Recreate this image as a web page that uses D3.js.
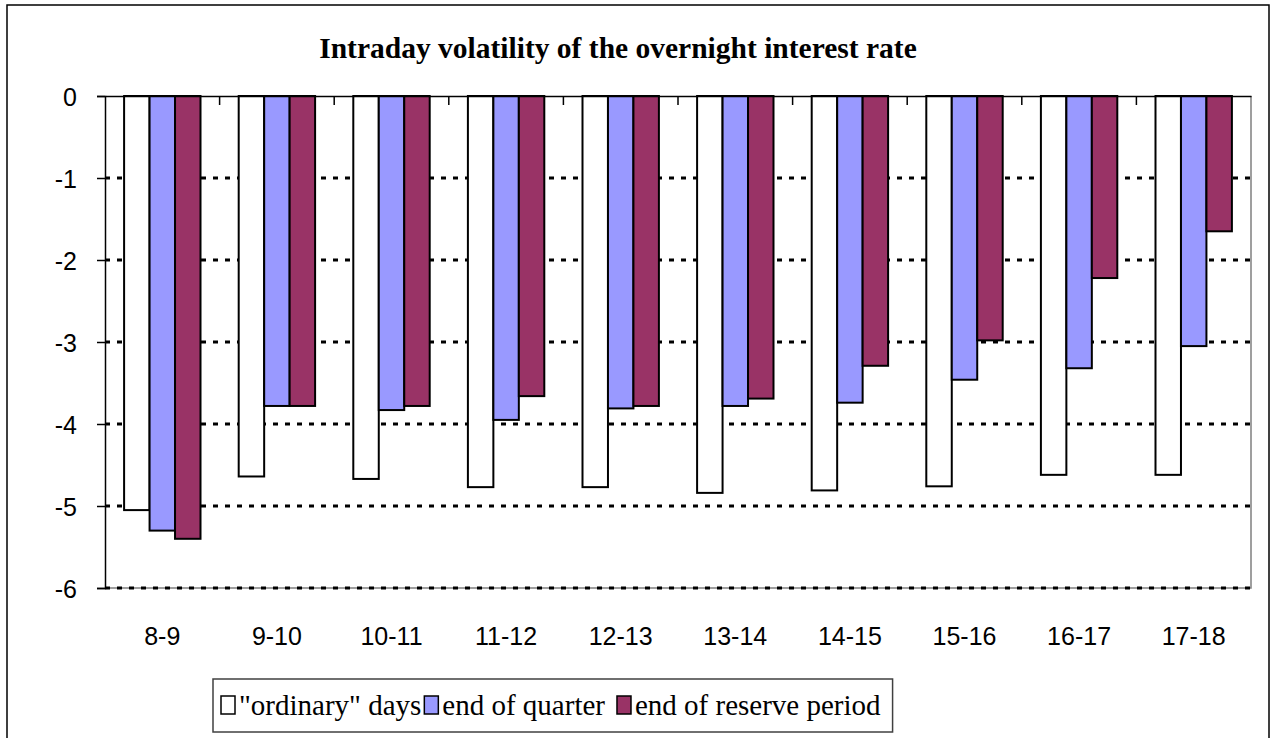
<!DOCTYPE html>
<html>
<head>
<meta charset="utf-8">
<script src="https://cdn.jsdelivr.net/npm/d3@7"></script>
<style>
  body { margin: 0; background: #fff; }
  svg { display: block; }
</style>
</head>
<body>
<div id="chart"></div>
<script>
// data
const categories = ["8-9", "9-10", "10-11", "11-12", "12-13", "13-14", "14-15", "15-16", "16-17", "17-18"];
const seriesNames = ["\"ordinary\" days", "end of quarter", "end of reserve period"];
const ordinaryDays = [-5.05, -4.64, -4.67, -4.77, -4.77, -4.84, -4.81, -4.76, -4.62, -4.62];
const endOfQuarter = [-5.30, -3.78, -3.83, -3.95, -3.81, -3.78, -3.74, -3.46, -3.32, -3.05];
const endOfReserve = [-5.40, -3.78, -3.78, -3.66, -3.78, -3.69, -3.29, -2.98, -2.22, -1.65];
const yTicks = [0, -1, -2, -3, -4, -5, -6];
const colors = ["#FFFFFF", "#9999FF", "#993366"];

const width = 1271, height = 738;
const plot = {left: 105, right: 1251, top: 96, bottom: 588};

const svg = d3.select("#chart").append("svg")
    .attr("width", width)
    .attr("height", height);

// outer chart frame
svg.append("rect")
    .attr("x", 7).attr("y", 5)
    .attr("width", 1262).attr("height", 745)
    .attr("fill", "#fff")
    .attr("stroke", "#000")
    .attr("stroke-width", 1.5);

const x0 = d3.scaleBand()
    .domain(categories)
    .range([plot.left, plot.right])
    .padding(0);

// Excel style gap width 150%: band = 3 bars + 1.5 bar
const barW = x0.bandwidth() / 4.5;
const x1 = d3.scaleBand()
    .domain(seriesNames)
    .range([barW * 0.75, barW * 3.75])
    .padding(0);

const y = d3.scaleLinear()
    .domain([-6, 0])
    .range([plot.bottom, plot.top]);

// plot area border (right and bottom, grey)
svg.append("path")
    .attr("d", `M${plot.right},${plot.top}V${plot.bottom}H${plot.left}`)
    .attr("fill", "none")
    .attr("stroke", "#808080")
    .attr("stroke-width", 1.5);

// dotted gridlines
svg.append("g")
    .selectAll("line")
    .data(yTicks.filter(d => d !== 0))
    .join("line")
    .attr("x1", plot.left).attr("x2", plot.right)
    .attr("y1", d => y(d)).attr("y2", d => y(d))
    .attr("stroke", "#000")
    .attr("stroke-width", 3)
    .attr("stroke-dasharray", "5 7");

// bars
const rows = categories.map((c, i) => ({
    cat: c,
    values: [ordinaryDays[i], endOfQuarter[i], endOfReserve[i]]
}));

svg.append("g")
    .selectAll("g")
    .data(rows)
    .join("g")
    .attr("transform", d => `translate(${x0(d.cat)},0)`)
    .selectAll("rect")
    .data(d => d.values.map((v, k) => ({name: seriesNames[k], value: v, k: k})))
    .join("rect")
    .attr("x", d => x1(d.name))
    .attr("y", y(0))
    .attr("width", x1.bandwidth())
    .attr("height", d => y(d.value) - y(0))
    .attr("fill", d => colors[d.k])
    .attr("stroke", "#000")
    .attr("stroke-width", 2);

// y axis (plain hyphen for the minus sign, like the original)
const yAxis = d3.axisLeft(y)
    .tickValues(yTicks)
    .tickSize(8)
    .tickPadding(20)
    .tickFormat(d => String(d));

const gy = svg.append("g")
    .attr("transform", `translate(${plot.left},0)`)
    .call(yAxis);
gy.select(".domain").attr("stroke", "#000").attr("stroke-width", 1.5);
gy.selectAll(".tick line").attr("stroke", "#000").attr("stroke-width", 1.5);
gy.selectAll(".tick text")
    .attr("font-family", "Arial, 'Liberation Sans', sans-serif")
    .attr("font-size", 25)
    .attr("fill", "#000")
    .attr("dy", "0.36em");

// category axis along zero line, ticks pointing down into the plot
const xAxis = d3.axisBottom(x0).tickSize(0).tickFormat("");
const gx = svg.append("g")
    .attr("transform", `translate(0,${y(0)})`)
    .call(xAxis);
gx.select(".domain").attr("stroke", "#000").attr("stroke-width", 1.5);

svg.append("g")
    .selectAll("line")
    .data(categories.slice(1))
    .join("line")
    .attr("x1", d => x0(d)).attr("x2", d => x0(d))
    .attr("y1", y(0)).attr("y2", y(0) + 9)
    .attr("stroke", "#000")
    .attr("stroke-width", 1.5);

// category labels placed low, under the plot
svg.append("g")
    .selectAll("text")
    .data(categories)
    .join("text")
    .attr("x", d => x0(d) + x0.bandwidth() / 2)
    .attr("y", 645)
    .attr("text-anchor", "middle")
    .attr("font-family", "Arial, 'Liberation Sans', sans-serif")
    .attr("font-size", 25)
    .text(d => d);

// title
svg.append("text")
    .attr("x", 618)
    .attr("y", 58)
    .attr("text-anchor", "middle")
    .attr("font-family", "'Times New Roman', 'Liberation Serif', serif")
    .attr("font-weight", "bold")
    .attr("font-size", 29.5)
    .text("Intraday volatility of the overnight interest rate");

// legend
const legend = svg.append("g");
const legendBox = legend.append("rect")
    .attr("y", 679)
    .attr("height", 53)
    .attr("fill", "#fff")
    .attr("stroke", "#404040")
    .attr("stroke-width", 1.5);

let lx = 221;
const gaps = [3, 12, 0];
seriesNames.forEach((name, k) => {
    legend.append("rect")
        .attr("x", lx).attr("y", 696)
        .attr("width", 14).attr("height", 18)
        .attr("fill", colors[k])
        .attr("stroke", "#000")
        .attr("stroke-width", 1.5);
    const t = legend.append("text")
        .attr("x", lx + 18)
        .attr("y", 715)
        .attr("font-family", "'Times New Roman', 'Liberation Serif', serif")
        .attr("font-size", 29)
        .text(name);
    lx += 18 + t.node().getComputedTextLength() + gaps[k];
});
legendBox.attr("x", 213).attr("width", lx - 213 + 12);
</script>
</body>
</html>
